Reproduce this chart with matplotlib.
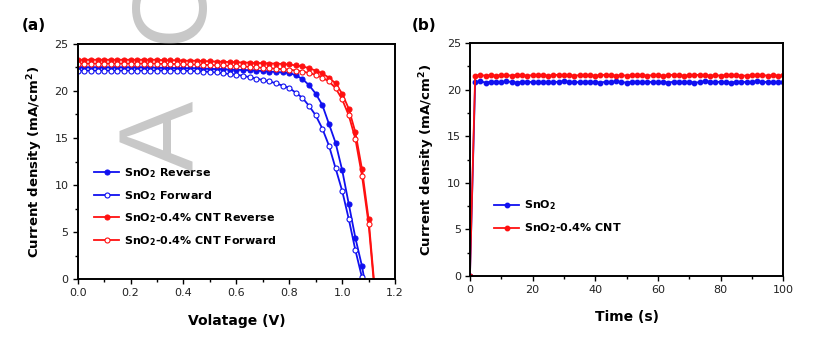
import numpy as np
import matplotlib
matplotlib.use('Agg')
import matplotlib.pyplot as plt
from matplotlib.ticker import MultipleLocator, FormatStrFormatter

plt.rcParams['font.family'] = ['DejaVu Sans']
plt.rcParams['mathtext.fontset'] = 'dejavusans'
plt.rcParams['mathtext.default'] = 'bf'

# (a) J-V curves, voltage grid 0.025 V
v_sno2 = np.round(np.arange(45) * 0.025, 3)   # 0 ... 1.100
v_cnt = np.round(np.arange(46) * 0.025, 3)    # 0 ... 1.125

sno2_rev = [22.5] * 12 + [22.45, 22.45, 22.45, 22.4, 22.4, 22.4, 22.4,
            22.35, 22.35, 22.3, 22.3, 22.25, 22.25, 22.2, 22.2, 22.15, 22.1,
            22.05, 22.0, 21.95, 21.9, 21.65, 21.25, 20.6, 19.7, 18.5, 16.5,
            14.5, 11.6, 8.0, 4.4, 1.4, -2.5]
sno2_fwd = [22.15] * 17 + [22.1, 22.1, 22.05, 22.0, 21.95, 21.85, 21.8,
            21.7, 21.6, 21.45, 21.3, 21.15, 21.0, 20.8, 20.55, 20.3, 19.8,
            19.25, 18.4, 17.4, 16.0, 14.2, 11.8, 9.4, 6.4, 3.1, 0.2, -3.0]
cnt_rev = [23.3] * 13 + [23.25, 23.25, 23.25, 23.2, 23.2, 23.2, 23.15, 23.15,
           23.1, 23.1, 23.05, 23.05, 23.0, 23.0, 22.95, 22.95, 22.9, 22.9,
           22.85, 22.8, 22.7, 22.6, 22.4, 22.15, 21.85, 21.4, 20.8, 19.7,
           18.1, 15.6, 11.7, 6.4, -1.6]
cnt_fwd = [22.9] * 13 + [22.85, 22.85, 22.85, 22.8, 22.8, 22.8, 22.75, 22.75,
           22.7, 22.7, 22.65, 22.6, 22.6, 22.55, 22.5, 22.45, 22.4, 22.35,
           22.3, 22.25, 22.15, 22.05, 21.9, 21.7, 21.4, 21.0, 20.3, 19.1,
           17.4, 14.9, 11.0, 5.9, -2.0]

# (b) steady-state current at max power point
time_s = np.linspace(0, 100, 61)
sno2_it = [0.0,
           20.8, 20.9, 20.75, 20.85, 20.85, 20.8, 20.9, 20.8, 20.75, 20.85,
           20.85, 20.8, 20.8, 20.85, 20.8, 20.8, 20.85, 20.9, 20.85, 20.8,
           20.8, 20.85, 20.85, 20.8, 20.75, 20.85, 20.8, 20.9, 20.8, 20.75,
           20.85, 20.85, 20.8, 20.85, 20.8, 20.8, 20.85, 20.75, 20.85, 20.85,
           20.8, 20.85, 20.75, 20.8, 20.9, 20.85, 20.8, 20.85, 20.8, 20.75,
           20.85, 20.85, 20.8, 20.85, 20.9, 20.85, 20.8, 20.85, 20.8, 20.8]
cnt_it = [0.0,
          21.5, 21.55, 21.5, 21.55, 21.5, 21.55, 21.55, 21.5, 21.6, 21.55,
          21.5, 21.55, 21.6, 21.55, 21.5, 21.55, 21.6, 21.55, 21.55, 21.5,
          21.55, 21.6, 21.55, 21.5, 21.55, 21.6, 21.55, 21.5, 21.55, 21.5,
          21.55, 21.6, 21.55, 21.5, 21.55, 21.55, 21.5, 21.55, 21.6, 21.55,
          21.5, 21.55, 21.55, 21.6, 21.55, 21.5, 21.55, 21.5, 21.55, 21.6,
          21.55, 21.5, 21.5, 21.55, 21.6, 21.55, 21.5, 21.55, 21.5, 21.55]

blue = '#1010f0'
red = '#ff1010'
ylab = 'Current density (mA/cm$^{2}$)'

fig = plt.figure(figsize=(8.23, 3.39), dpi=100)
ax1 = fig.add_axes([0.0944, 0.176, 0.3856, 0.695])
ax2 = fig.add_axes([0.571, 0.1858, 0.3807, 0.6873])


def style_axes(ax):
    for sp in ax.spines.values():
        sp.set_linewidth(1.4)
    ax.tick_params(which='both', direction='out', top=False, right=False,
                   labelsize=8, labelcolor='#222222', width=1.0)
    ax.tick_params(which='major', length=3.5, pad=3)
    ax.tick_params(which='minor', length=2)


# J-V panel
kw = dict(lw=1.3, ms=3.6, mew=0.8)
ax1.plot(v_sno2, sno2_rev, '-o', color=blue, label='SnO$_2$ Reverse', **kw)
ax1.plot(v_sno2, sno2_fwd, '-o', color=blue, mfc='white', mec=blue,
         label='SnO$_2$ Forward', **kw)
ax1.plot(v_cnt, cnt_rev, '-o', color=red, label='SnO$_2$-0.4% CNT Reverse', **kw)
ax1.plot(v_cnt, cnt_fwd, '-o', color=red, mfc='white', mec=red,
         label='SnO$_2$-0.4% CNT Forward', **kw)
ax1.set_xlim(0, 1.2)
ax1.set_ylim(0, 25)
ax1.xaxis.set_major_locator(MultipleLocator(0.2))
ax1.xaxis.set_minor_locator(MultipleLocator(0.1))
ax1.yaxis.set_major_locator(MultipleLocator(5))
ax1.yaxis.set_minor_locator(MultipleLocator(2.5))
ax1.xaxis.set_major_formatter(FormatStrFormatter('%.1f'))
style_axes(ax1)
ax1.set_xlabel('Volatage (V)', fontsize=10, fontweight='bold', labelpad=11)
ax1.set_ylabel(ylab, fontsize=9.5, fontweight='bold', labelpad=7)
ax1.legend(loc='upper left', bbox_to_anchor=(0.035, 0.503), frameon=False,
           prop={'size': 8, 'weight': 'bold'}, handlelength=2.2,
           handletextpad=0.5, labelspacing=0.78, borderpad=0)

# J-t panel
kw2 = dict(lw=1.3, ms=3.2)
ax2.plot(time_s, sno2_it, '-o', color=blue, label='SnO$_2$', **kw2)
ax2.plot(time_s, cnt_it, '-o', color=red, label='SnO$_2$-0.4% CNT', **kw2)
ax2.set_xlim(0, 100)
ax2.set_ylim(0, 25)
ax2.xaxis.set_major_locator(MultipleLocator(20))
ax2.xaxis.set_minor_locator(MultipleLocator(10))
ax2.yaxis.set_major_locator(MultipleLocator(5))
ax2.yaxis.set_minor_locator(MultipleLocator(2.5))
style_axes(ax2)
ax2.set_xlabel('Time (s)', fontsize=10, fontweight='bold', labelpad=11)
ax2.set_ylabel(ylab, fontsize=9.5, fontweight='bold', labelpad=7)
ax2.legend(loc='upper left', bbox_to_anchor=(0.06, 0.357), frameon=False,
           prop={'size': 8, 'weight': 'bold'}, handlelength=2.2,
           handletextpad=0.5, labelspacing=0.85, borderpad=0)

# panel letters
fig.text(0.027, 0.925, '(a)', fontsize=11, fontweight='bold', va='center')
fig.text(0.5, 0.925, '(b)', fontsize=11, fontweight='bold', va='center')

# faint "Accepted" watermark
fig.text(0.202, 0.497, 'A', rotation=90, fontsize=76, family='Liberation Sans',
         color='#9a9a9a', alpha=0.55, ha='center', va='bottom', zorder=10)
fig.text(0.211, 0.873, 'C', rotation=90, fontsize=76, family='Liberation Sans',
         color='#9a9a9a', alpha=0.55, ha='center', va='bottom', zorder=10)

fig.savefig('out.png', dpi=100)
